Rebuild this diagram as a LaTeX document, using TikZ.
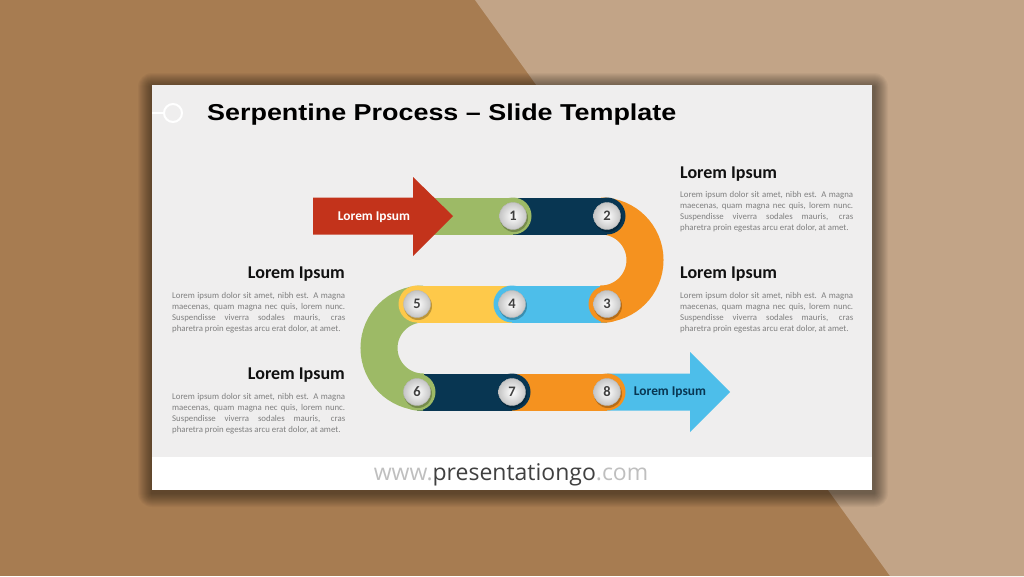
\documentclass[tikz,border=0pt]{standalone}
\usepackage{fontspec}
\setmainfont{Carlito}
\newfontfamily\titlefont{Liberation Sans}
\newfontfamily\footfont{Open Sans}
\usetikzlibrary{calc}
\definecolor{bgdark}{HTML}{A77C51}
\definecolor{bglight}{HTML}{C2A487}
\definecolor{slidebg}{HTML}{EFEEEE}
\definecolor{pgreen}{HTML}{9DBA66}
\definecolor{pnavy}{HTML}{083652}
\definecolor{porange}{HTML}{F5921F}
\definecolor{pblue}{HTML}{4DBEEA}
\definecolor{pyellow}{HTML}{FEC94A}
\definecolor{pred}{HTML}{C3331B}
\definecolor{bodygray}{HTML}{7F7F7F}
\definecolor{numgray}{HTML}{404040}
\definecolor{headblack}{HTML}{111111}
\definecolor{footgray}{HTML}{BFBFBF}
\newcommand{\loremtext}{Lorem ipsum dolor sit amet, nibh est. A magna\linebreak maecenas, quam magna nec quis, lorem nunc.\linebreak Suspendisse viverra sodales mauris, cras\linebreak pharetra proin egestas arcu erat dolor, at amet.}
\tikzset{
  band/.style={line width=37pt, line cap=butt},
  numball/.style={circle, minimum size=27pt, inner sep=0pt, draw=gray!55, line width=0.4pt,
    inner color=white, outer color=gray!45, text=numgray,
    font=\bfseries\fontsize{14.5}{14.5}\selectfont},
  ballshadow/.style={fill=black, opacity=0.25},
  heading/.style={inner sep=0pt, text=headblack, font=\bfseries\fontsize{18}{21}\selectfont},
  bodytext/.style={inner sep=0pt, text width=173pt, align=justify, text=bodygray,
    font=\fontsize{8.8}{11.1}\selectfont},
  arrowlbl/.style={inner sep=0pt, font=\bfseries\fontsize{13.4}{15}\selectfont},
}
\begin{document}
\begin{tikzpicture}[x=1pt, y=-1pt]
\useasboundingbox (0,0) rectangle (1024,576);
% background
\fill[bgdark] (0,0) rectangle (1024,576);
\fill[bglight] (475,0) -- (1024,0) -- (1024,576) -- (890,576) -- cycle;
% slide shadow
\foreach \i in {1,...,14}
  \fill[black, opacity=0.035, rounded corners=\i pt] (152-\i, 85-\i+2) rectangle (872+\i+2, 490+\i+3);
% slide
\fill[slidebg] (152,85) rectangle (872,457);
\fill[white] (152,457) rectangle (872,490);
% title
\draw[white, line width=1.5pt] (152,113) -- (164,113);
\draw[white, line width=2pt, fill=slidebg] (173,113) circle (9);
\node[anchor=base west, inner sep=0pt] (title) at (207,120)
  {\scalebox{1.17}[1]{\titlefont\bfseries\fontsize{23}{27}\selectfont Serpentine Process – Slide Template}};
% coordinates
\coordinate (c1) at (513,216);
\coordinate (c2) at (607,216);
\coordinate (c3) at (607,304);
\coordinate (c4) at (512,304);
\coordinate (c5) at (417,304);
\coordinate (c6) at (417,392);
\coordinate (c7) at (512,392);
\coordinate (c8) at (607,392);
\coordinate (s0) at (420,216);
% blue arrow (end)
\fill[pblue] (607,373.5) -- (690,373.5) -- (690,352) -- (730,392) -- (690,432) -- (690,410.5) -- (607,410.5) -- cycle;
% row 3
\draw[band, porange] (c7) -- (c8); \fill[porange] (c8) circle (18.5);
\draw[band, pnavy] (c6) -- (c7); \fill[pnavy] (c7) circle (18.5);
% left turn
\draw[band, pgreen] (c5) -- (423,304) arc[start angle=270, end angle=90, radius=44] -- (c6);
\fill[pgreen] (c6) circle (18.5);
% row 2
\draw[band, pyellow] (c4) -- (c5); \fill[pyellow] (c5) circle (18.5);
\draw[band, pblue] (c3) -- (c4); \fill[pblue] (c4) circle (18.5);
% right turn
\draw[band, porange] (c2) -- (601,216) arc[start angle=-90, end angle=90, radius=44] -- (c3);
\fill[porange] (c3) circle (18.5);
% row 1
\draw[band, pnavy] (c1) -- (c2); \fill[pnavy] (c2) circle (18.5);
\draw[band, pgreen] (s0) -- (c1); \fill[pgreen] (c1) circle (18.5);
% red arrow (start)
\fill[pred] (313,197.5) -- (413,197.5) -- (413,177) -- (453,216) -- (413,256) -- (413,234.5) -- (313,234.5) -- cycle;
\node[arrowlbl, text=white] (startlbl) at (374,217) {Lorem Ipsum};
\node[arrowlbl, text=pnavy] (endlbl) at (670,392) {Lorem Ipsum};
% number balls
\foreach \k in {1,...,8} {
  \fill[ballshadow] ($(c\k)+(1,2)$) circle (14);
  \node[numball] (n\k) at (c\k) {\k};
}
% text blocks right
\node[heading, anchor=west] (h1) at (680,174) {Lorem Ipsum};
\node[bodytext, anchor=north west] (b1) at (680,191) {\loremtext};
\node[heading, anchor=west] (h2) at (680,274) {Lorem Ipsum};
\node[bodytext, anchor=north west] (b2) at (680,292) {\loremtext};
% text blocks left
\node[heading, anchor=east] (h3) at (345,274) {Lorem Ipsum};
\node[bodytext, anchor=north west] (b3) at (172,292) {\loremtext};
\node[heading, anchor=east] (h4) at (345,375) {Lorem Ipsum};
\node[bodytext, anchor=north west] (b4) at (172,393) {\loremtext};
% footer
\node[inner sep=0pt, font=\footfont\fontsize{23}{26}\selectfont] (foot) at (511,475)
  {\textcolor{footgray}{www.}\textcolor{numgray}{presentationgo}\textcolor{footgray}{.com}};
\end{tikzpicture}
\end{document}
